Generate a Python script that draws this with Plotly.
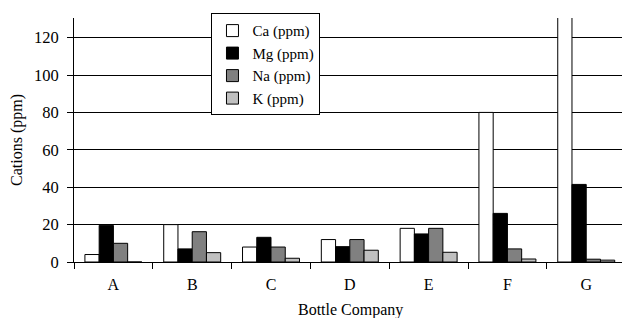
import plotly.graph_objects as go

companies = ["A", "B", "C", "D", "E", "F", "G"]
ca = [4, 20, 8, 12, 18, 80, 150]
mg = [19.6, 7, 13.2, 8.2, 15, 26, 41.5]
na = [10, 16.2, 8, 12, 18, 7, 1.5]
k = [0, 5, 2, 6.3, 5.2, 1.6, 1]

series = [
    ("Ca (ppm)", ca, "#ffffff"),
    ("Mg (ppm)", mg, "#000000"),
    ("Na (ppm)", na, "#808080"),
    ("K (ppm)", k, "#c0c0c0"),
]

fig = go.Figure()
for name, vals, col in series:
    fig.add_trace(go.Bar(
        x=companies, y=vals, name=name, legendgroup=name,
        marker=dict(color=col, line=dict(color="#000000", width=1)),
    ))

font = "Liberation Serif"
W, H, L, T, B = 622, 318, 74, 18, 56
pw, ph = W - L, H - T - B

fig.update_layout(
    width=W, height=H,
    margin=dict(l=L, r=0, t=T, b=B, autoexpand=False),
    paper_bgcolor="white", plot_bgcolor="white",
    barmode="group", bargap=0.277, bargroupgap=0,
    font=dict(family=font, size=16, color="black"),
    showlegend=True,
    legend=dict(
        xref="container", yref="container",
        x=0.34, y=0.958, xanchor="left", yanchor="top",
        bgcolor="white", bordercolor="black", borderwidth=1,
        font=dict(family=font, size=15, color="black"),
        tracegroupgap=0, itemwidth=30,
    ),
    xaxis=dict(
        range=[-0.5, 6.454], showgrid=False,
        showline=True, linecolor="black", linewidth=1,
        ticks="outside", tickson="boundaries", ticklen=6, tickcolor="black",
        tickfont=dict(size=16), ticklabelstandoff=8,
    ),
    yaxis=dict(
        range=[0, 130.5], dtick=20, tick0=0,
        showgrid=True, gridcolor="black", gridwidth=1,
        showline=True, linecolor="black", linewidth=1,
        ticks="outside", ticklen=6, tickcolor="black",
        tickfont=dict(size=16.5), ticklabelstandoff=5,
        zeroline=False,
    ),
    annotations=[
        dict(text="Bottle Company", xref="paper", yref="paper",
             x=(350 - L) / pw, y=-(310 - (T + ph)) / ph,
             xanchor="center", yanchor="middle", showarrow=False,
             font=dict(family=font, size=16)),
        dict(text="Cations (ppm)", xref="paper", yref="paper",
             x=(17 - L) / pw, y=0.5, textangle=-90,
             xanchor="center", yanchor="middle", showarrow=False,
             font=dict(family=font, size=16)),
    ],
)

fig.write_html("out.html", config={"displayModeBar": False},
               post_script="document.body.style.margin='0';")
